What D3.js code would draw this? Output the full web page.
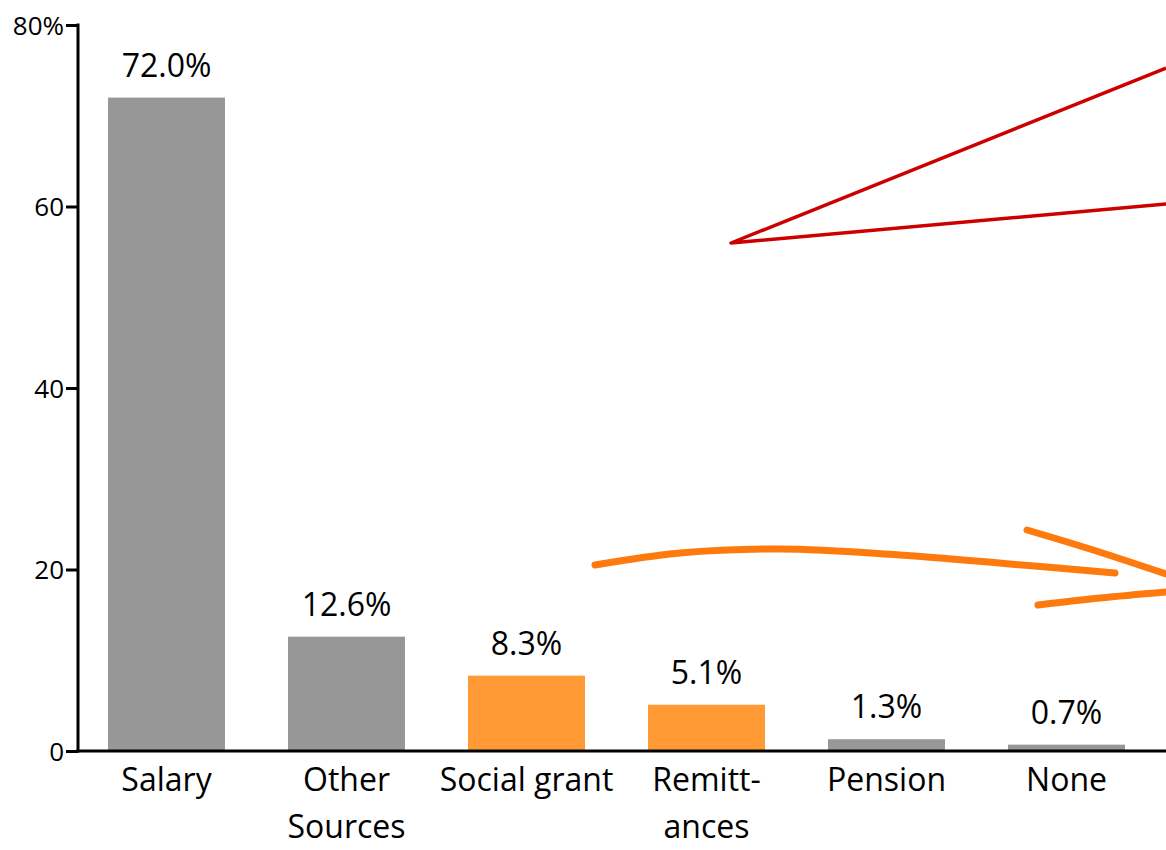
<!DOCTYPE html>
<html>
<head>
<meta charset="utf-8">
<script src="https://cdn.jsdelivr.net/npm/d3@7"></script>
<style>
  html, body { margin: 0; padding: 0; background: #fff; }
  svg { display: block; font-family: "Open Sans", "Noto Sans", sans-serif; }
</style>
</head>
<body>
<div id="chart"></div>
<script>
// data
const categories = [["Salary"], ["Other", "Sources"], ["Social grant"], ["Remitt-", "ances"], ["Pension"], ["None"]];
const values = [72.0, 12.6, 8.3, 5.1, 1.3, 0.7];
const highlighted = [false, false, true, true, false, false];
const yTicks = [0, 20, 40, 60, 80];

// decorative callouts (pixel coords)
const redWedge = [[1166, 68], [731, 243], [1166, 204]];
const orangeCurve = [[595, 565], [680, 553], [780, 549], [900, 555], [1010, 564], [1115, 573]];
const orangeHead1 = [[1027, 530], [1090, 549], [1166, 574]];
const orangeHead2 = [[1038, 605], [1100, 598], [1166, 592]];

const width = 1166, height = 850;
const margins = { top: 25, left: 78, bottom: 99, right: 8 };

const svg = d3.select("#chart").append("svg")
  .attr("width", width)
  .attr("height", height);

const x = d3.scaleBand()
  .domain(d3.range(values.length))
  .range([margins.left - 1.5, margins.left - 1.5 + 180 * values.length])
  .paddingInner(0.35)
  .paddingOuter(0.175);

const y = d3.scaleLinear()
  .domain([0, 80])
  .range([height - margins.bottom, margins.top]);

// bars
svg.append("g").selectAll("rect")
  .data(values)
  .join("rect")
  .attr("x", (d, i) => x(i))
  .attr("y", d => y(d))
  .attr("width", x.bandwidth())
  .attr("height", d => y(0) - y(d))
  .attr("fill", (d, i) => highlighted[i] ? "#ff9a35" : "#979797");

// value labels
svg.append("g").selectAll("text")
  .data(values)
  .join("text")
  .attr("x", (d, i) => x(i) + x.bandwidth() / 2)
  .attr("y", d => y(d) - 21)
  .attr("text-anchor", "middle")
  .attr("font-size", 32)
  .attr("fill", "#000")
  .text(d => d3.format(".1f")(d) + "%");

// y axis
const yAxis = svg.append("g")
  .attr("transform", `translate(${margins.left},0)`)
  .call(d3.axisLeft(y).tickValues(yTicks).tickSize(12).tickSizeOuter(0)
    .tickFormat(d => d === 80 ? "80%" : d));
yAxis.attr("font-size", null).attr("font-family", null);
yAxis.select(".domain").attr("stroke", "#000").attr("stroke-width", 3)
  .attr("d", `M0,${y(80) - 1.5}V${y(0) + 1.5}`);
yAxis.selectAll(".tick line").attr("stroke", "#000").attr("stroke-width", 3);
yAxis.selectAll(".tick text")
  .style("font-size", "26px")
  .attr("fill", "#000")
  .attr("x", -14)
  .attr("dy", "0.35em");

// x axis line
svg.append("line")
  .attr("x1", margins.left - 1.5)
  .attr("x2", width)
  .attr("y1", y(0))
  .attr("y2", y(0))
  .attr("stroke", "#000")
  .attr("stroke-width", 3);

// category labels
const catLabels = svg.append("g").selectAll("text")
  .data(categories)
  .join("text")
  .attr("text-anchor", "middle")
  .attr("font-size", 32)
  .attr("fill", "#000")
  .attr("transform", (d, i) => `translate(${x(i) + x.bandwidth() / 2},${y(0) + 40})`);
catLabels.selectAll("tspan")
  .data(d => d)
  .join("tspan")
  .attr("x", 0)
  .attr("dy", (d, j) => j === 0 ? 0 : 47)
  .text(d => d);

// callouts
const straight = d3.line();
svg.append("path")
  .attr("d", straight(redWedge))
  .attr("fill", "none")
  .attr("stroke", "#cc0000")
  .attr("stroke-width", 3.5)
  .attr("stroke-linejoin", "round");

const smooth = d3.line().curve(d3.curveCatmullRom);
[orangeCurve, orangeHead1, orangeHead2].forEach(pts => {
  svg.append("path")
    .attr("d", smooth(pts))
    .attr("fill", "none")
    .attr("stroke", "#ff7a0e")
    .attr("stroke-width", 7)
    .attr("stroke-linecap", "round");
});
</script>
</body>
</html>
